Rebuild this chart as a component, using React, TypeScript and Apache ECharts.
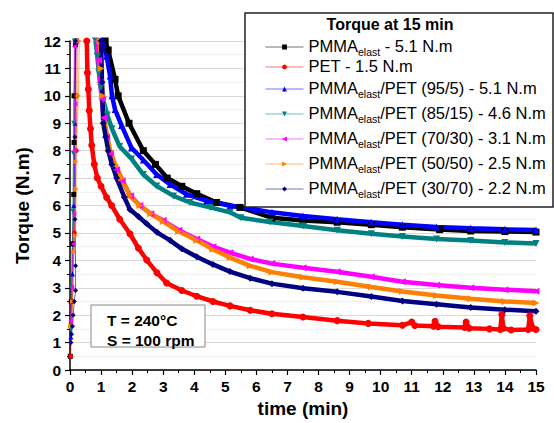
import React, { useEffect, useRef } from 'react';
import * as echarts from 'echarts';

type Pt = [number, number];

const seriesNames = [
  'PMMA_elast - 5.1 N.m',
  'PET - 1.5 N.m',
  'PMMA_elast/PET (95/5) - 5.1 N.m',
  'PMMA_elast/PET (85/15) - 4.6 N.m',
  'PMMA_elast/PET (70/30) - 3.1 N.m',
  'PMMA_elast/PET (50/50) - 2.5 N.m',
  'PMMA_elast/PET (30/70) - 2.2 N.m',
];
const seriesColors = ['#000000', '#ff0000', '#0000ff', '#008080', '#ff00ff', '#ff8000', '#000080'];
const seriesSymbols = ['rect', 'circle', 'triangle', 'triangle', 'triangle', 'triangle', 'diamond'];
const symbolRotations = [0, 0, 0, 180, 90, -90, 0];

// loading (rise) part of each curve
const pmmaRise: Pt[] = [[0.01, 0.5], [0.04, 2.5], [0.08, 4.6], [0.12, 6.4], [0.13, 8.3], [0.13, 10], [0.18, 11.86], [0.2, 12]];
const petRise: Pt[] = [[0.02, 0.5], [0.08, 2.5], [0.14, 5], [0.2, 8], [0.22, 10], [0.23, 12]];
const b95Rise: Pt[] = [[0.03, 1.2], [0.08, 3.5], [0.12, 6], [0.16, 9], [0.19, 12]];
const b85Rise: Pt[] = [[0.02, 1.5], [0.06, 3], [0.09, 5.8], [0.11, 7.9], [0.12, 9], [0.14, 12]];
const b70Rise: Pt[] = [[0.02, 1.8], [0.06, 3], [0.1, 4.6], [0.12, 5.7], [0.13, 8], [0.16, 9.7], [0.14, 11.8], [0.15, 12]];
const b50Rise: Pt[] = [[0.02, 1.6], [0.08, 2.5], [0.12, 4.3], [0.18, 4.9], [0.2, 6.6], [0.19, 7.6], [0.27, 10], [0.3, 12]];
const b30Rise: Pt[] = [[0.03, 1.0], [0.05, 1.3], [0.08, 1.6], [0.1, 2.0], [0.14, 2.5], [0.18, 2.9], [0.18, 3.8], [0.16, 5.5], [0.16, 8.5], [0.18, 12]];

// relaxation (decay) part of each curve
const pmmaDecay: Pt[] = [[1.13, 12], [1.23, 11.67], [1.45, 10.6], [1.55, 10], [1.9, 9], [2.36, 8], [2.75, 7.5], [3.13, 7], [3.6, 6.7], [4.08, 6.43], [4.72, 6.11], [5.47, 5.93], [6.5, 5.55], [7.5, 5.45], [8.6, 5.39], [9.7, 5.3], [10.7, 5.21], [11.9, 5.12], [12.9, 5.07], [14, 5.05], [15, 5.03]];
const petDecay: Pt[] = [[0.54, 12], [0.56, 10.84], [0.59, 10.24], [0.62, 9.46], [0.66, 8.8], [0.7, 8.2], [0.78, 7.5], [0.88, 7], [1.0, 6.7], [1.18, 6.29], [1.34, 6.0], [1.6, 5.5], [1.93, 4.97], [2.2, 4.45], [2.47, 4.01], [2.8, 3.55], [3.11, 3.17], [3.6, 2.9], [4.08, 2.69], [4.6, 2.5], [5.15, 2.34], [5.8, 2.18], [6.5, 2.05], [7.5, 1.93], [8.6, 1.8], [9.6, 1.7], [10.7, 1.63], [11.0, 1.75], [11.1, 1.62], [11.7, 1.6], [11.75, 1.78], [11.85, 1.58], [12.7, 1.55], [12.75, 1.75], [12.85, 1.52], [13.5, 1.5], [13.85, 1.48], [13.9, 2.02], [13.95, 1.52], [14.2, 1.46], [14.75, 1.48], [14.8, 1.98], [14.9, 1.52], [15, 1.48]];
const b95Decay: Pt[] = [[1.05, 12], [1.18, 11.44], [1.29, 10.72], [1.35, 10.0], [1.45, 9.5], [1.66, 8.92], [1.98, 8.1], [2.36, 7.66], [2.79, 7.13], [3.22, 6.77], [3.75, 6.41], [4.4, 6.17], [5.15, 5.99], [6.0, 5.85], [6.5, 5.75], [7.5, 5.62], [8.6, 5.5], [9.7, 5.39], [10.7, 5.3], [11.8, 5.22], [12.9, 5.17], [14, 5.13], [15, 5.11]];
const b85Decay: Pt[] = [[0.82, 12], [0.88, 11.44], [0.93, 10.84], [0.99, 10.3], [1.07, 9.85], [1.2, 9.3], [1.35, 8.8], [1.6, 8.15], [1.98, 7.7], [2.36, 7.13], [2.79, 6.71], [3.33, 6.35], [3.86, 6.11], [4.51, 5.93], [5.15, 5.75], [5.5, 5.55], [6.44, 5.4], [7.5, 5.25], [8.6, 5.1], [9.7, 4.97], [10.7, 4.87], [11.8, 4.78], [12.9, 4.72], [14, 4.65], [15, 4.61]];
const b70Decay: Pt[] = [[0.88, 12], [0.92, 11.3], [0.97, 10.5], [1.02, 9.9], [1.08, 9.2], [1.18, 8.5], [1.3, 7.9], [1.5, 7.3], [1.68, 6.9], [1.95, 6.35], [2.25, 6.0], [2.6, 5.7], [3.0, 5.45], [3.5, 5.1], [4.08, 4.78], [4.6, 4.5], [5.15, 4.28], [5.8, 4.05], [6.5, 3.88], [7.5, 3.73], [8.6, 3.58], [9.7, 3.4], [10.7, 3.22], [11.8, 3.1], [12.9, 3.0], [14, 2.93], [15, 2.87]];
const b50Decay: Pt[] = [[0.97, 12], [1.0, 11], [1.05, 10], [1.12, 9], [1.29, 8], [1.45, 7.5], [1.66, 7], [1.93, 6.35], [2.25, 6.0], [2.6, 5.7], [3.0, 5.42], [3.5, 5.05], [4.08, 4.73], [4.6, 4.4], [5.15, 4.1], [5.8, 3.8], [6.5, 3.57], [7.5, 3.38], [8.6, 3.22], [9.7, 3.03], [10.7, 2.86], [11.8, 2.72], [12.9, 2.6], [14, 2.5], [15, 2.44]];
const b30Decay: Pt[] = [[1.0, 12], [1.03, 10.5], [1.07, 9], [1.15, 8.5], [1.23, 8], [1.35, 7.5], [1.5, 7], [1.75, 6.3], [1.93, 5.85], [2.2, 5.6], [2.47, 5.33], [2.8, 5.02], [3.22, 4.73], [3.6, 4.42], [4.08, 4.13], [4.6, 3.85], [5.15, 3.59], [5.8, 3.35], [6.5, 3.15], [7.5, 2.98], [8.6, 2.85], [9.7, 2.68], [10.7, 2.52], [11.8, 2.4], [12.9, 2.28], [14, 2.2], [15, 2.14]];

const riseData = [pmmaRise, petRise, b95Rise, b85Rise, b70Rise, b50Rise, b30Rise];
const decayData = [pmmaDecay, petDecay, b95Decay, b85Decay, b70Decay, b50Decay, b30Decay];

const legendTitle = 'Torque at 15 min';
const conditionLines = ['T = 240°C', 'S = 100 rpm'];

const FONT = '"Liberation Sans", Arial, sans-serif';

export default function App() {
  const ref = useRef<HTMLDivElement>(null);
  useEffect(() => {
    if (!ref.current) return;
    const chart = echarts.init(ref.current, undefined, { renderer: 'svg' });
    const series: any[] = [];
    seriesNames.forEach((name, i) => {
      series.push({
        name,
        type: 'line',
        data: decayData[i],
        symbol: seriesSymbols[i],
        symbolRotate: symbolRotations[i],
        symbolSize: 7,
        showSymbol: true,
        color: seriesColors[i],
        lineStyle: { width: 4.5, color: seriesColors[i] },
        itemStyle: { color: seriesColors[i] },
        z: 2,
      });
    });
    seriesNames.forEach((name, i) => {
      series.push({
        name: name + ' (loading)',
        type: 'line',
        data: riseData[i],
        symbol: seriesSymbols[i],
        symbolRotate: symbolRotations[i],
        symbolSize: 5,
        showSymbol: true,
        color: seriesColors[i],
        lineStyle: { width: 1, color: seriesColors[i], opacity: 0.6 },
        itemStyle: { color: seriesColors[i] },
        z: 2,
      });
    });

    const option: any = {
      animation: false,
      backgroundColor: '#ffffff',
      textStyle: { fontFamily: FONT },
      grid: { left: 70, right: 18, top: 41, bottom: 48, containLabel: false },
      xAxis: {
        type: 'value',
        min: 0,
        max: 15,
        interval: 1,
        name: 'time (min)',
        nameLocation: 'middle',
        nameGap: 29,
        nameTextStyle: { fontFamily: FONT, fontWeight: 'bold', fontSize: 19, color: '#000' },
        axisLine: { show: true, onZero: false, lineStyle: { color: '#000', width: 1.5 } },
        axisTick: { show: true, inside: false, length: 5, lineStyle: { color: '#000', width: 1.2 } },
        minorTick: { show: true, splitNumber: 2, length: 3, lineStyle: { color: '#000', width: 1 } },
        axisLabel: { fontFamily: FONT, fontWeight: 'bold', fontSize: 15.5, color: '#000', margin: 8 },
        splitLine: { show: false },
      },
      yAxis: {
        type: 'value',
        min: 0,
        max: 12,
        interval: 1,
        name: 'Torque (N.m)',
        nameLocation: 'middle',
        nameGap: 38,
        nameTextStyle: { fontFamily: FONT, fontWeight: 'bold', fontSize: 19, color: '#000' },
        axisLine: { show: true, onZero: false, lineStyle: { color: '#000', width: 1.5 } },
        axisTick: { show: true, inside: false, length: 5, lineStyle: { color: '#000', width: 1.2 } },
        minorTick: { show: true, splitNumber: 2, length: 3, lineStyle: { color: '#000', width: 1 } },
        axisLabel: { fontFamily: FONT, fontWeight: 'bold', fontSize: 15.5, color: '#000', margin: 9 },
        splitLine: { show: true, lineStyle: { color: '#d9d9d9', width: 1 } },
        minorSplitLine: { show: true, lineStyle: { color: '#e4e4e4', width: 1, type: 'dotted' } },
      },
      legend: {
        orient: 'vertical',
        left: 265,
        top: 32,
        padding: 0,
        itemGap: 0,
        itemWidth: 38,
        itemHeight: 6,
        selectedMode: false,
        z: 10,
        data: seriesNames,
        lineStyle: { width: 1, opacity: 0.55 },
        formatter: (name: string) => {
          const parts = name.split('_elast');
          if (parts.length > 1) return `{a|${parts[0]}}{s|elast}{a|${parts[1]}}`;
          return `{a|${name}}`;
        },
        textStyle: {
          fontFamily: FONT,
          color: '#000',
          rich: {
            a: { fontFamily: FONT, fontSize: 16.5, color: '#000', lineHeight: 20, verticalAlign: 'top' },
            s: { fontFamily: FONT, fontSize: 10.5, color: '#000', lineHeight: 12, padding: [14, 0, 0, 0], verticalAlign: 'bottom' },
          },
        },
      },
      graphic: [
        {
          type: 'rect',
          z: 3,
          shape: { x: 245, y: 13, width: 308, height: 194 },
          style: { fill: '#ffffff', stroke: '#222', lineWidth: 1.5 },
        },
        {
          type: 'text',
          z: 10,
          x: 390,
          y: 24,
          style: {
            text: legendTitle,
            fontFamily: FONT,
            fontWeight: 'bold',
            fontSize: 16,
            fill: '#000',
            align: 'center',
            verticalAlign: 'middle',
          },
        },
        {
          type: 'rect',
          z: 3,
          shape: { x: 91, y: 305, width: 114, height: 42 },
          style: { fill: '#ffffff', stroke: '#888', lineWidth: 1 },
        },
        {
          type: 'text',
          z: 10,
          x: 107,
          y: 320,
          style: { text: conditionLines[0], fontFamily: FONT, fontWeight: 'bold', fontSize: 15.5, fill: '#000', verticalAlign: 'middle' },
        },
        {
          type: 'text',
          z: 10,
          x: 107,
          y: 340,
          style: { text: conditionLines[1], fontFamily: FONT, fontWeight: 'bold', fontSize: 15.5, fill: '#000', verticalAlign: 'middle' },
        },
      ],
      series,
    };
    chart.setOption(option);
    return () => chart.dispose();
  }, []);
  return <div ref={ref} style={{ width: 554, height: 423, position: 'absolute', left: 0, top: 0 }} />;
}
